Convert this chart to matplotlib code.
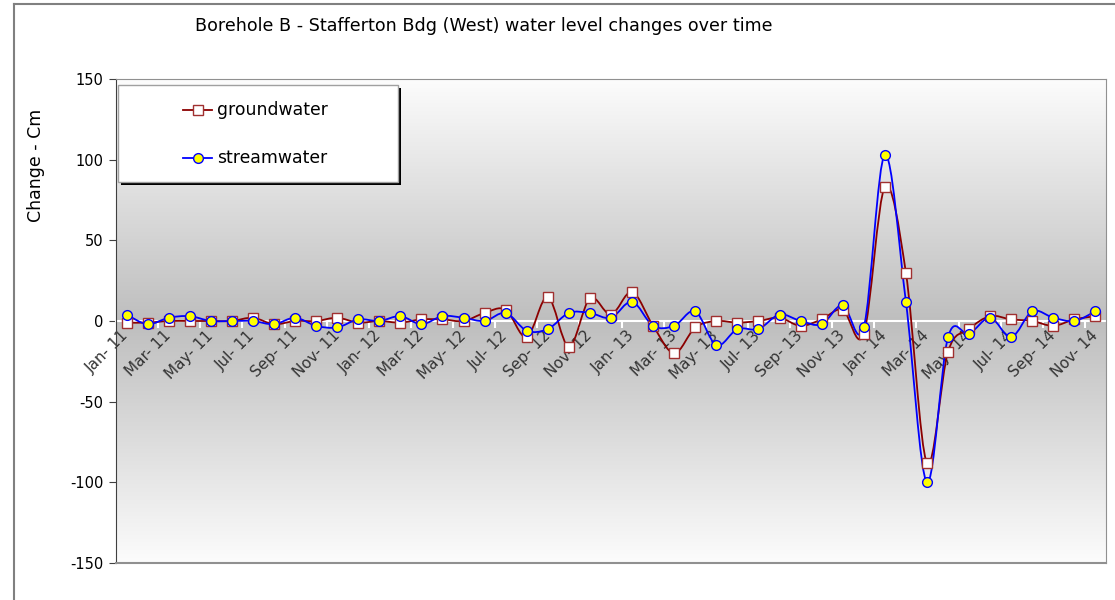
import numpy as np
import matplotlib
matplotlib.use('Agg')
import matplotlib.pyplot as plt
from matplotlib.path import Path
from matplotlib.patches import PathPatch, Rectangle
from matplotlib.lines import Line2D
from matplotlib.colors import LinearSegmentedColormap

plt.rcParams['axes.unicode_minus'] = False

# monthly categories Jan-11 .. Nov-14
months = ['Jan', 'Feb', 'Mar', 'Apr', 'May', 'Jun',
          'Jul', 'Aug', 'Sep', 'Oct', 'Nov', 'Dec']
years = ['11', '12', '13', '14']
categories = [m + '- ' + y for y in years for m in months][:47]

groundwater = [-1, -1, 0, 0, 0, 0, 2, -2, 0, 0, 2, -1,
               0, -1, 1, 1, 0, 5, 7, -10, 15, -16, 14, 4,
               18, -3, -20, -4, 0, -1, 0, 2, -3, 1, 7, -8,
               83, 30, -88, -19, -5, 3, 1, 0, -3, 1, 3]
streamwater = [4, -2, 2, 3, 0, 0, 0, -2, 2, -3, -4, 1,
               0, 3, -2, 3, 2, 0, 5, -6, -5, 5, 5, 2,
               12, -3, -3, 6, -15, -5, -5, 4, 0, -2, 10, -4,
               103, 12, -100, -10, -8, 2, -10, 6, 2, 0, 6]

title = 'Borehole B - Stafferton Bdg (West) water level changes over time'
W, H = 1115, 600


def smooth_path(x, y):
    # excel-like smoothed line: cubic bezier segments through the points
    x = np.asarray(x, float)
    y = np.asarray(y, float)
    pts = np.column_stack([x, y])
    ext = np.vstack([pts[0], pts, pts[-1]])
    verts = [pts[0]]
    codes = [Path.MOVETO]
    for i in range(len(pts) - 1):
        p0, p1, p2, p3 = ext[i], ext[i + 1], ext[i + 2], ext[i + 3]
        c1 = p1 + (p2 - p0) / 6.0
        c2 = p2 - (p3 - p1) / 6.0
        verts += [c1, c2, p2]
        codes += [Path.CURVE4] * 3
    return Path(verts, codes)


fig = plt.figure(figsize=(W / 100, H / 100), dpi=100)
ax = fig.add_axes([116 / W, 1 - 563 / H, 990 / W, 484 / H])

idx = np.arange(len(categories))
ax.set_xlim(-0.5, len(categories) - 0.5)
ax.set_ylim(-150, 150)

# background gradient
grad = np.abs(np.linspace(-1, 1, 256))[:, None]
cmap_bg = LinearSegmentedColormap.from_list('bg', ['#bebebe', '#fcfcfc'])
ax.imshow(grad, aspect='auto', cmap=cmap_bg, vmin=0, vmax=1,
          extent=[-0.5, len(categories) - 0.5, -150, 150], zorder=0)

# series
for vals, lc, mk, mfc, mec, ms in [
        (groundwater, '#8b0000', 's', 'white', '#a03030', 6.5),
        (streamwater, '#0000ff', 'o', '#ffff00', '#0000ff', 7)]:
    ax.add_patch(PathPatch(smooth_path(idx, vals), facecolor='none',
                           edgecolor=lc, lw=1.3, zorder=3))
    ax.plot(idx, vals, ls='none', marker=mk, ms=ms, mfc=mfc, mec=mec,
            mew=1.0, zorder=4)

# axes styling
ax.spines['bottom'].set_position(('data', 0))
ax.spines['bottom'].set_color('white')
ax.spines['bottom'].set_linewidth(1.5)
ax.spines['bottom'].set_zorder(2)
ax.spines['left'].set_color('#404040')
ax.spines['top'].set_color('#909090')
ax.spines['right'].set_color('#909090')
ax.plot([0, 1], [0, 0], transform=ax.transAxes, color='#909090',
        lw=1.5, clip_on=False, zorder=5)

ax.set_yticks([-150, -100, -50, 0, 50, 100, 150])
ax.tick_params(axis='y', direction='out', length=5, color='#404040',
               labelsize=10.5, labelcolor='black', pad=4)

ax.set_xticks(idx[::2])
ax.set_xticklabels(categories[::2])
ax.set_xticks(np.arange(-0.5, len(categories), 2)[1:], minor=True)
ax.tick_params(axis='x', which='major', length=0, pad=9,
               labelsize=11, labelcolor='#333333')
ax.tick_params(axis='x', which='minor', length=5, color='white', width=1.5,
               direction='out')
for lab in ax.get_xticklabels():
    lab.set_rotation(45)
    lab.set_ha('right')
    lab.set_va('center')
    lab.set_rotation_mode('anchor')

# titles
fig.text(484 / W, 1 - 26 / H, title, ha='center', va='center', fontsize=12.6)
fig.text(36 / W, 1 - 165 / H, 'Change - Cm', rotation=90,
         ha='center', va='center', fontsize=12.5)

# outer chart frame
fig.add_artist(Line2D([14 / W, 14 / W], [0, 1 - 4 / H], color='#808080', lw=1.5))
fig.add_artist(Line2D([14 / W, 1], [1 - 4 / H, 1 - 4 / H], color='#808080', lw=1.5))


# legend box with shadow
def fr(px, py):
    return px / W, 1 - py / H


x0, y0 = fr(121, 185)
fig.add_artist(Rectangle((x0, y0), 280 / W, 97 / H, facecolor='black',
                         edgecolor='none', transform=fig.transFigure, zorder=6))
x0, y0 = fr(118, 182)
fig.add_artist(Rectangle((x0, y0), 280 / W, 97 / H, facecolor='white',
                         edgecolor='#a0a0a0', lw=1, transform=fig.transFigure,
                         zorder=7))
for py, lc, mk, mfc, mec, ms, name in [
        (110, '#8b0000', 's', 'white', '#a03030', 6.5, 'groundwater'),
        (158, '#0000ff', 'o', '#ffff00', '#0000ff', 7, 'streamwater')]:
    xa, ya = fr(183, py)
    xb, _ = fr(212, py)
    fig.add_artist(Line2D([xa, xb], [ya, ya], color=lc, lw=1.3, zorder=8))
    xm, _ = fr(198, py)
    fig.add_artist(Line2D([xm], [ya], ls='none', marker=mk, ms=ms, mfc=mfc,
                          mec=mec, mew=1.0, zorder=9))
    xt, _ = fr(217, py)
    fig.text(xt, ya, name, ha='left', va='center', fontsize=12.4, zorder=9)

fig.savefig('out.png', dpi=100)
